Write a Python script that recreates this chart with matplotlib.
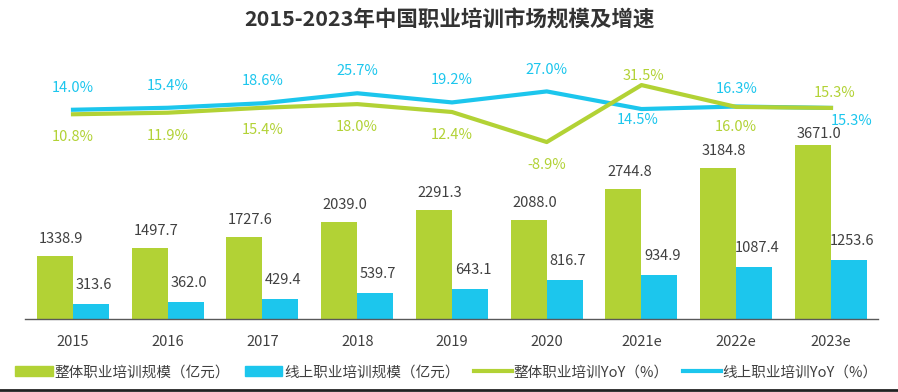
import numpy as np
import matplotlib
matplotlib.use('Agg')
import matplotlib.pyplot as plt
from matplotlib.lines import Line2D
from matplotlib.patches import Patch

plt.rcParams['font.family'] = ['Noto Sans CJK SC', 'DejaVu Sans']
plt.rcParams['axes.unicode_minus'] = False

# 数据
years = ['2015', '2016', '2017', '2018', '2019', '2020', '2021e', '2022e', '2023e']
total_size = [1338.9, 1497.7, 1727.6, 2039.0, 2291.3, 2088.0, 2744.8, 3184.8, 3671.0]
online_size = [313.6, 362.0, 429.4, 539.7, 643.1, 816.7, 934.9, 1087.4, 1253.6]
total_yoy = [10.8, 11.9, 15.4, 18.0, 12.4, -8.9, 31.5, 16.0, 15.3]
online_yoy = [14.0, 15.4, 18.6, 25.7, 19.2, 27.0, 14.5, 16.3, 15.3]

GREEN = '#B2D235'
CYAN = '#1CC6ED'
TEXT = '#404040'

# 百分比标签偏移 (像素, 正数向上)
total_off = [-23, -23, -22, -23, -23, -23, 9, -20, 15]
online_off = [22, 22, 22, 22, 22, 21, -11, 18, -13]
online_dx = [0, 0, 0, 0, 0, 0, -4, 0, 21]
total_dx = [0, 0, 0, 0, 0, 0, 2, 0, 4]
bar_off = [10, 10, 10, 10, 10, 10, 10, 10, 4]

fig = plt.figure(figsize=(8.98, 3.92), dpi=100)
ax = fig.add_axes([0.0278, 0.1862, 0.9499, 0.6608])
ax2 = ax.twinx()

x = np.arange(len(years))
w = 0.38
ax.bar(x - w / 2, total_size, w, color=GREEN, zorder=2)
ax.bar(x + w / 2, online_size, w, color=CYAN, zorder=2)

for i in range(len(years)):
    ax.annotate(f'{total_size[i]:.1f}', (x[i] - w / 2, total_size[i]), xytext=(6, bar_off[i]),
                textcoords='offset pixels', ha='center', va='bottom', fontsize=10.5, color=TEXT)
    ax.annotate(f'{online_size[i]:.1f}', (x[i] + w / 2, online_size[i]), xytext=(3, 12),
                textcoords='offset pixels', ha='center', va='bottom', fontsize=10.5, color=TEXT)

ax.set_xlim(-0.507, 8.496)
ax.set_ylim(0, 5464)
ax2.set_ylim(-134.4, 49.3)

ax2.plot(x, online_yoy, color=CYAN, lw=3, solid_joinstyle='round', zorder=3)
ax2.plot(x, total_yoy, color=GREEN, lw=3, solid_joinstyle='round', zorder=3)

for i in range(len(years)):
    ax2.annotate(f'{online_yoy[i]:.1f}%', (x[i], online_yoy[i]), xytext=(online_dx[i], online_off[i]),
                 textcoords='offset pixels', ha='center', va='center', fontsize=10.5, color=CYAN)
    ax2.annotate(f'{total_yoy[i]:.1f}%', (x[i], total_yoy[i]), xytext=(total_dx[i], total_off[i]),
                 textcoords='offset pixels', ha='center', va='center', fontsize=10.5, color=GREEN)

for a in (ax, ax2):
    for s in ('top', 'left', 'right'):
        a.spines[s].set_visible(False)
    a.tick_params(left=False, right=False, bottom=False, labelleft=False, labelright=False)
ax2.spines['bottom'].set_visible(False)
ax.spines['bottom'].set_color('#595959')
ax.spines['bottom'].set_linewidth(1)
ax.set_xticks(x)
ax.set_xticklabels(years, fontsize=10.5, color=TEXT)
ax.tick_params(axis='x', pad=8)

fig.text(0.5, 0.948, '2015-2023年中国职业培训市场规模及增速', ha='center', va='center',
         fontsize=15.5, fontweight='bold', color='#333333')

handles = [Patch(color=GREEN), Patch(color=CYAN),
           Line2D([], [], color=GREEN, lw=3), Line2D([], [], color=CYAN, lw=3)]
labels = ['整体职业培训规模（亿元）', '线上职业培训规模（亿元）',
          '整体职业培训YoY（%）', '线上职业培训YoY（%）']
fig.legend(handles, labels, loc='center', bbox_to_anchor=(0.497, 0.05), ncol=4, frameon=False,
           fontsize=10.5, handlelength=2.6, handletextpad=0.1, columnspacing=1.0,
           labelcolor=TEXT)

fig.add_artist(Line2D([0, 1], [0.004, 0.004], color='#222222', lw=2, transform=fig.transFigure))

fig.savefig('out.png', dpi=100)
